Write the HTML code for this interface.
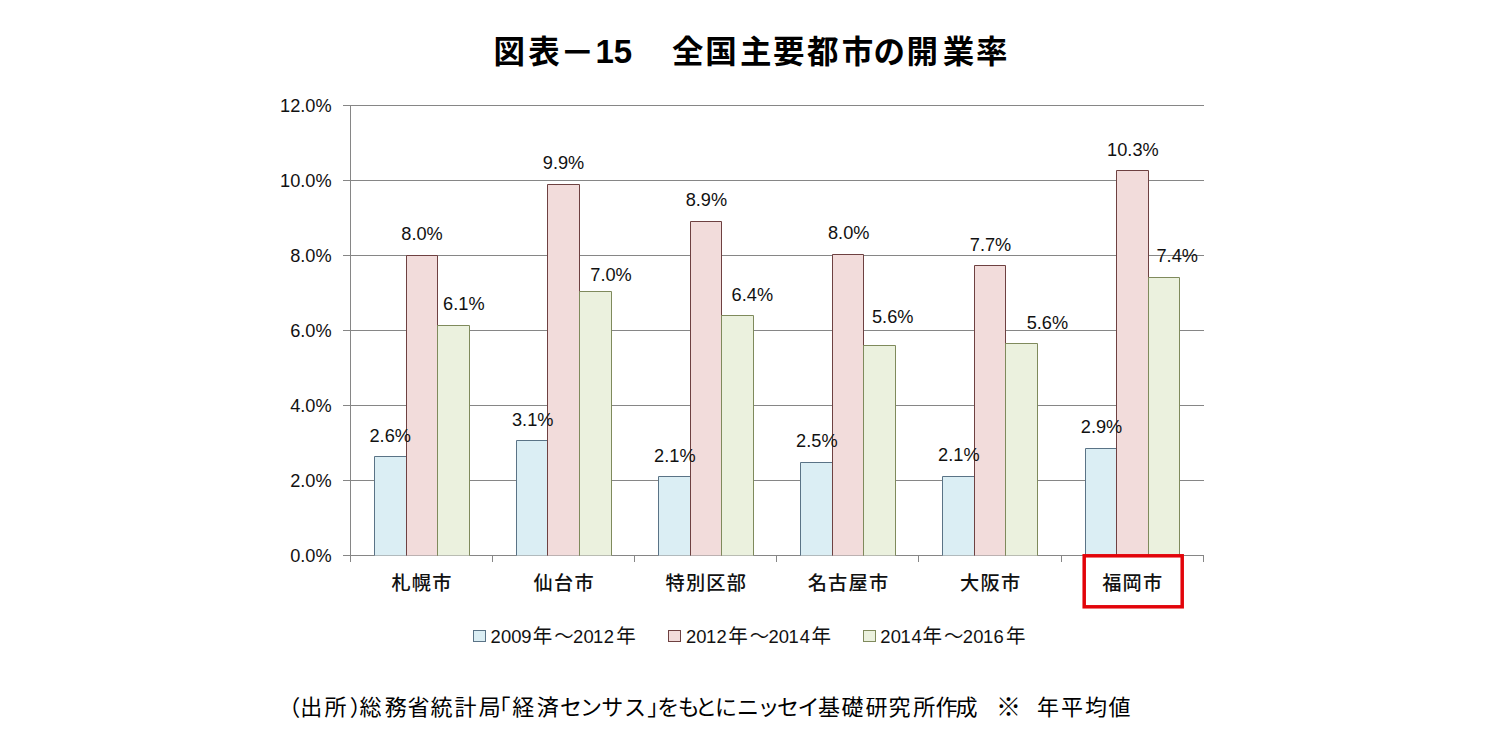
<!DOCTYPE html>
<html lang="ja"><head><meta charset="utf-8"><title>図表－15 全国主要都市の開業率</title>
<style>
html,body{margin:0;padding:0;background:#fff;}
body{width:1495px;height:755px;overflow:hidden;position:relative;}
svg{position:absolute;left:0;top:0;display:block;}
text{font-family:"Liberation Sans","Noto Sans CJK JP",sans-serif;}
.num{font-size:18.2px;fill:#111;}
.cat{font-size:19.2px;fill:#111;font-weight:500;letter-spacing:1.2px;}
.legd{font-size:18.4px;fill:#111;}
.legj{font-size:19.5px;fill:#111;}
.tj{font-family:"Liberation Sans","Noto Sans CJK JP",sans-serif;font-size:31.5px;font-weight:bold;fill:#000;}
.tn{font-size:33px;font-weight:bold;fill:#000;}
.foot{font-family:"Liberation Sans","Noto Sans CJK JP",sans-serif;font-size:22px;fill:#000;}
</style></head><body>
<svg width="1495" height="755" viewBox="0 0 1495 755">
<rect x="0" y="0" width="1495" height="755" fill="#fff"/>
<text class="tj" x="493.4 528.3" y="63">図表<tspan x="560.1" y="64.6" style="font-size:34.7px">－</tspan></text>
<text class="tn" x="595.5" y="62.8">15</text>
<text class="tj" x="672.1 705.3 740.0 773.1 806.9 841.7 873.6 906.4 942.8 975.9" y="63">全国主要都市の開業率</text>
<path d="M343 105.5H1204 M343 180.5H1204 M343 255.5H1204 M343 330.5H1204 M343 405.5H1204 M343 480.5H1204 M343 555.5H1204 M350.5 105V562 M350.5 555V562 M492.5 555V562 M634.5 555V562 M776.5 555V562 M918.5 555V562 M1061.5 555V562 M1203.5 555V562" stroke="#868686" stroke-width="1" fill="none"/>
<path d="M374.5 555.5V456.5H406.5V555.5" fill="#dbeef4" stroke="#5a7386" stroke-width="1"/>
<path d="M406.5 555.5V255.5H437.5V555.5" fill="#f2dcdb" stroke="#6e4141" stroke-width="1"/>
<path d="M437.5 555.5V325.5H469.5V555.5" fill="#ebf1de" stroke="#7f8a5c" stroke-width="1"/>
<path d="M516.5 555.5V440.5H547.5V555.5" fill="#dbeef4" stroke="#5a7386" stroke-width="1"/>
<path d="M547.5 555.5V184.5H579.5V555.5" fill="#f2dcdb" stroke="#6e4141" stroke-width="1"/>
<path d="M579.5 555.5V291.5H611.5V555.5" fill="#ebf1de" stroke="#7f8a5c" stroke-width="1"/>
<path d="M658.5 555.5V476.5H690.5V555.5" fill="#dbeef4" stroke="#5a7386" stroke-width="1"/>
<path d="M690.5 555.5V221.5H721.5V555.5" fill="#f2dcdb" stroke="#6e4141" stroke-width="1"/>
<path d="M721.5 555.5V315.5H753.5V555.5" fill="#ebf1de" stroke="#7f8a5c" stroke-width="1"/>
<path d="M800.5 555.5V462.5H832.5V555.5" fill="#dbeef4" stroke="#5a7386" stroke-width="1"/>
<path d="M832.5 555.5V254.5H863.5V555.5" fill="#f2dcdb" stroke="#6e4141" stroke-width="1"/>
<path d="M863.5 555.5V345.5H895.5V555.5" fill="#ebf1de" stroke="#7f8a5c" stroke-width="1"/>
<path d="M942.5 555.5V476.5H974.5V555.5" fill="#dbeef4" stroke="#5a7386" stroke-width="1"/>
<path d="M974.5 555.5V265.5H1005.5V555.5" fill="#f2dcdb" stroke="#6e4141" stroke-width="1"/>
<path d="M1005.5 555.5V343.5H1037.5V555.5" fill="#ebf1de" stroke="#7f8a5c" stroke-width="1"/>
<path d="M1085.5 555.5V448.5H1116.5V555.5" fill="#dbeef4" stroke="#5a7386" stroke-width="1"/>
<path d="M1116.5 555.5V170.5H1148.5V555.5" fill="#f2dcdb" stroke="#6e4141" stroke-width="1"/>
<path d="M1148.5 555.5V277.5H1179.5V555.5" fill="#ebf1de" stroke="#7f8a5c" stroke-width="1"/>
<text class="num" x="369.5" y="441.7">2.6%</text>
<text class="num" x="401.3" y="239.8">8.0%</text>
<text class="num" x="443.1" y="309.9">6.1%</text>
<text class="num" x="512.0" y="426.1">3.1%</text>
<text class="num" x="542.8" y="169.0">9.9%</text>
<text class="num" x="590.3" y="281.0">7.0%</text>
<text class="num" x="654.1" y="461.9">2.1%</text>
<text class="num" x="685.7" y="206.1">8.9%</text>
<text class="num" x="731.6" y="301.1">6.4%</text>
<text class="num" x="796.1" y="446.9">2.5%</text>
<text class="num" x="828.0" y="239.0">8.0%</text>
<text class="num" x="872.0" y="323.1">5.6%</text>
<text class="num" x="938.1" y="461.1">2.1%</text>
<text class="num" x="969.8" y="251.0">7.7%</text>
<text class="num" x="1026.7" y="328.7">5.6%</text>
<text class="num" x="1080.8" y="433.1">2.9%</text>
<text class="num" x="1107.1" y="156.1">10.3%</text>
<text class="num" x="1156.5" y="261.9">7.4%</text>
<text class="num" x="331.6" y="112.2" text-anchor="end">12.0%</text>
<text class="num" x="331.6" y="187.2" text-anchor="end">10.0%</text>
<text class="num" x="331.6" y="262.2" text-anchor="end">8.0%</text>
<text class="num" x="331.6" y="337.2" text-anchor="end">6.0%</text>
<text class="num" x="331.6" y="412.2" text-anchor="end">4.0%</text>
<text class="num" x="331.6" y="487.2" text-anchor="end">2.0%</text>
<text class="num" x="331.6" y="562.2" text-anchor="end">0.0%</text>
<text class="cat" x="422.0" y="589.8" text-anchor="middle">札幌市</text>
<text class="cat" x="564.2" y="589.8" text-anchor="middle">仙台市</text>
<text class="cat" x="706.3" y="589.8" text-anchor="middle">特別区部</text>
<text class="cat" x="848.5" y="589.8" text-anchor="middle">名古屋市</text>
<text class="cat" x="990.7" y="589.8" text-anchor="middle">大阪市</text>
<text class="cat" x="1132.8" y="589.8" text-anchor="middle">福岡市</text>
<rect x="1084.2" y="555.8" width="98" height="51" fill="none" stroke="#e2040a" stroke-width="3.5"/>
<rect x="473.5" y="630.5" width="12" height="11" fill="#dbeef4" stroke="#5a7386" stroke-width="1"/>
<text y="642.9"><tspan class="legd" x="490.5 500.9 511.2 521.2">2009</tspan><tspan class="legj" x="532.8 554.3" y="642.7">年～</tspan><tspan class="legd" x="573.0 583.4 593.1 603.7" y="642.9">2012</tspan><tspan class="legj" x="616.2" y="642.7">年</tspan></text>
<rect x="668.5" y="630.5" width="12" height="11" fill="#f2dcdb" stroke="#6e4141" stroke-width="1"/>
<text y="642.9"><tspan class="legd" x="685.9 696.3 706.0 716.6">2012</tspan><tspan class="legj" x="728.2 749.7" y="642.7">年～</tspan><tspan class="legd" x="768.4 778.8 788.5 799.7" y="642.9">2014</tspan><tspan class="legj" x="811.6" y="642.7">年</tspan></text>
<rect x="863.5" y="630.5" width="12" height="11" fill="#ebf1de" stroke="#7f8a5c" stroke-width="1"/>
<text y="642.9"><tspan class="legd" x="880.3 890.7 900.4 911.6">2014</tspan><tspan class="legj" x="922.6 944.1" y="642.7">年～</tspan><tspan class="legd" x="962.8 973.2 982.9 993.5" y="642.9">2016</tspan><tspan class="legj" x="1006.0" y="642.7">年</tspan></text>
<text class="foot" y="714.6"><tspan x="278.2 300.3 324.4 349.8 359.6 384.8 407.5 430.5 454.5 478.8 488.6 512.2 536.8 560.1 580.0 601.3 624.0 647.3 657.2 677.8 695.1 715.0 737.0 757.4 776.9 797.6 818.1 841.4 865.5 888.5 913.3 935.6 955.6">（出所）総務省統計局「経済センサス」をもとにニッセイ基礎研究所作成</tspan><tspan x="974.0 996.0 1021.0" y="715.6" style="font-size:25px">　※　</tspan><tspan x="1037.1 1061.1 1085.1 1108.5" y="714.6">年平均値</tspan></text>
</svg>
</body></html>
